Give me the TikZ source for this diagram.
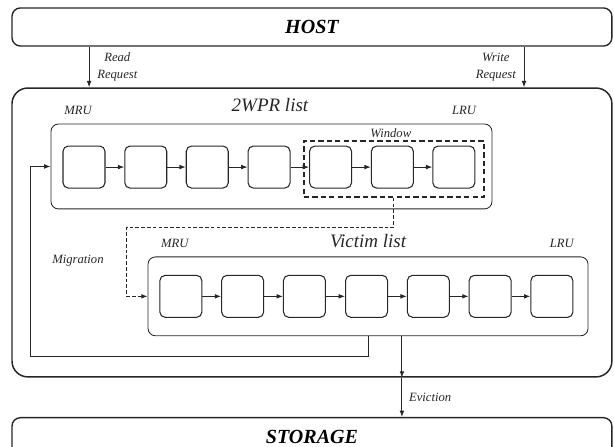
\documentclass[tikz,border=0pt]{standalone}
\usepackage{fontspec}
\setmainfont{Liberation Serif}
\usetikzlibrary{shapes}
\usetikzlibrary{positioning}
\usetikzlibrary{arrows.meta}
\tikzset{
    hostbox/.style = {rectangle, rounded corners=8pt, line width=1.3pt, draw=black!85, minimum width=20cm, minimum height=1.27cm, font=\bfseries\itshape\fontsize{19}{22}\selectfont},
    cachebox/.style = {rectangle, rounded corners=15pt, line width=1.4pt, draw=black!85, minimum width=20cm, minimum height=9.63cm},
    listbox/.style = {rectangle, rounded corners=7pt, line width=0.8pt, draw=black!85},
    cell/.style = {rectangle, rounded corners=5pt, line width=1pt, draw=black!85, minimum size=1.4cm},
    winbox/.style = {rectangle, line width=1.6pt, dash pattern=on 5pt off 3pt, draw=black!85, minimum width=6cm, minimum height=1.87cm},
    lbl/.style = {align=center, text=black!85, font=\itshape\fontsize{12}{16}\selectfont},
    listname/.style = {text=black!85, font=\itshape\fontsize{18}{20}\selectfont},
    edgen/.style = {-{Latex[length=6pt,width=4.5pt]}, line width=0.9pt, black!85},
    edgegd/.style = {edgen, dash pattern=on 3.5pt off 2pt}, % migration
}

\begin{document}
\begin{tikzpicture}[scale=1.00,transform shape]
\useasboundingbox (0,0) rectangle (20.47,14.9);
\node[hostbox] at (10.4, 14.0) (host) {HOST};
\node[cachebox] at (10.4, 7.15) (cache) {};
\node[hostbox] at (10.4, 0.34) (storage) {STORAGE};
%
\node[listbox, minimum width=14.7cm, minimum height=2.83cm] at (9.05, 9.35) (wpr) {};
\node[listname] at (9.0, 11.4) (wprname) {2WPR list};
\node[lbl] at (2.6, 11.23) (wmru) {MRU};
\node[lbl] at (15.47, 11.23) (wlru) {LRU};
\node[winbox] at (13.13, 9.27) (win) {};
\node[lbl] at (13.03, 10.47) (winname) {Window};
%
\node[cell] at (2.80, 9.33) (w1) {};
\node[cell] at (4.86, 9.33) (w2) {};
\node[cell] at (6.91, 9.33) (w3) {};
\node[cell] at (8.97, 9.33) (w4) {};
\node[cell] at (11.02, 9.33) (w5) {};
\node[cell] at (13.08, 9.33) (w6) {};
\node[cell] at (15.13, 9.33) (w7) {};
%
\node[listbox, minimum width=14.67cm, minimum height=2.63cm] at (12.27, 5.02) (victim) {};
\node[listname] at (12.27, 6.87) (vname) {Victim list};
\node[lbl] at (5.83, 6.77) (vmru) {MRU};
\node[lbl] at (18.73, 6.77) (vlru) {LRU};
\node[lbl] at (2.6, 6.2) (mig) {Migration};
%
\node[cell] at (6.03, 5.02) (v1) {};
\node[cell] at (8.09, 5.02) (v2) {};
\node[cell] at (10.15, 5.02) (v3) {};
\node[cell] at (12.22, 5.02) (v4) {};
\node[cell] at (14.28, 5.02) (v5) {};
\node[cell] at (16.34, 5.02) (v6) {};
\node[cell] at (18.40, 5.02) (v7) {};
%
\coordinate (rd) at (2.97, 0);
\coordinate (wr) at (17.47, 0);
\coordinate (ev) at (13.4, 0);
\coordinate (mg) at (4.23, 7.33);
\coordinate (fb) at (1.03, 3.0);
%
\draw[edgen] (host.south -| rd) -- node[lbl, right=4pt] {Read\\Request} (cache.north -| rd);
\draw[edgen] (host.south -| wr) -- node[lbl, left=4pt] {Write\\Request} (cache.north -| wr);
\draw[edgen] (w1) -- (w2);
\draw[edgen] (w2) -- (w3);
\draw[edgen] (w3) -- (w4);
\draw[edgen] (w4) -- (w5);
\draw[edgen] (w5) -- (w6);
\draw[edgen] (w6) -- (w7);
\draw[edgen] (v1) -- (v2);
\draw[edgen] (v2) -- (v3);
\draw[edgen] (v3) -- (v4);
\draw[edgen] (v4) -- (v5);
\draw[edgen] (v5) -- (v6);
\draw[edgen] (v6) -- (v7);
\draw[edgegd] (win.south) |- (mg) |- (victim.west);
\draw[edgen] (victim.south) |- (fb) |- (wpr.west);
\draw[edgen] (victim.south -| ev) -- (cache.south -| ev);
\draw[edgen] (cache.south -| ev) -- node[lbl, right=3pt] {Eviction} (storage.north -| ev);
\end{tikzpicture}
\end{document}
